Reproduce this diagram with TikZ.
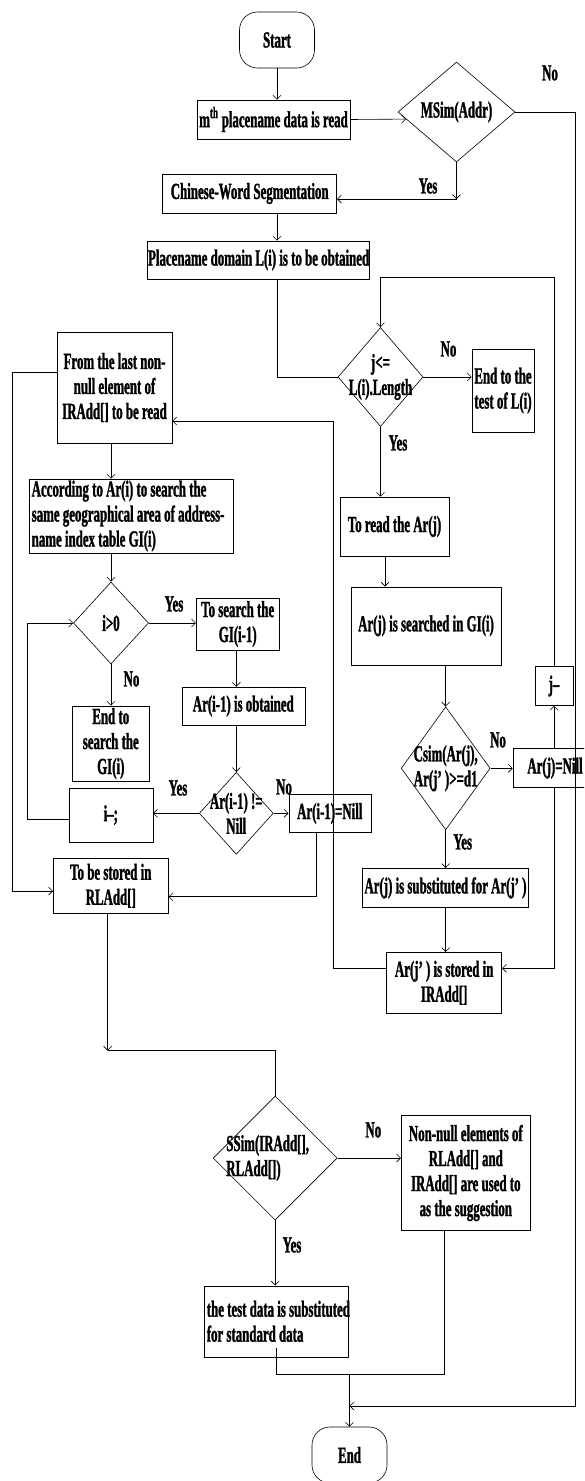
\documentclass[tikz,border=0pt]{standalone}
\usepackage{fontspec}
\setmainfont{Liberation Serif}[FakeStretch=0.56, BoldFeatures={FakeBold=1.2}]
\usetikzlibrary{shapes.geometric,arrows.meta,calc}
\begin{document}
\begin{tikzpicture}[x=1pt,y=-1pt, line width=0.6pt,
  >={Straight Barb[length=4pt,width=8pt]},
  font=\bfseries\fontsize{23}{25}\selectfont,
  box/.style 2 args={draw, rectangle, minimum width=#1, minimum height=#2, inner sep=0pt},
  dia/.style 2 args={draw, diamond, minimum width=#1, minimum height=#2, inner sep=0pt},
  term/.style={draw, rectangle, rounded corners=18pt, minimum width=75pt, minimum height=56pt, inner sep=0pt},
  t/.style={align=center, inner sep=0pt},
  tl/.style={align=left, inner sep=0pt, anchor=west},
  lab/.style={inner sep=0pt}]
\useasboundingbox (0,0) rectangle (584,1481);
\clip (0,0) rectangle (584,1481);

% ---------- nodes ----------
\node[term] (start) at (277,40) {};
\node[t] (startT) at (start) {Start};
\node[box={153pt}{39pt}] (b1) at (273.5,119.5) {};
\node[t] (b1T) at (b1) {m\textsuperscript{th} placename data is read};
\node[dia={117pt}{100pt}] (d1) at (456.5,112) {};
\node[t] (d1T) at (d1) {MSim(Addr)};
\node[box={174pt}{39pt}] (b2) at (249.7,193.5) {};
\node[t] (b2T) at (b2) {Chinese-Word Segmentation};
\node[box={222pt}{38pt}] (b3) at (258.6,260) {};
\node[t] (b3T) at (b3) {Placename domain L(i) is to be obtained};
\node[dia={85pt}{99pt}] (d2) at (380.5,377) {};
\node[t] (d2T) at (d2) {j<=\\L(i).Length};
\node[box={62pt}{83pt}] (bEt) at (503,390.5) {};
\node[t] (bEtT) at (bEt) {End to the\\test of L(i)};
\node[box={115pt}{111pt}] (bFrom) at (114.5,387.5) {};
\node[t] (bFromT) at (bFrom) {From the last non-\\null element of\\IRAdd[] to be read};
\node[box={204pt}{74pt}] (bAcc) at (131.7,516) {};
\node[tl] (bAccT) at ([xshift=2pt]bAcc.west) {According to Ar(i) to search the\\same geographical area of address-\\name index table GI(i)};
\node[box={109pt}{59pt}] (bRead) at (394.5,526.5) {};
\node[t] (bReadT) at (bRead) {To read the Ar(j)};
\node[box={150pt}{78pt}] (bSrch) at (426,625.8) {};
\node[t] (bSrchT) at (bSrch) {Ar(j) is searched in GI(i)};
\node[dia={75pt}{82pt}] (d3) at (111,623) {};
\node[t] (d3T) at (d3) {i>0};
\node[box={83pt}{52pt}] (bGI) at (237.7,624) {};
\node[t] (bGIT) at (bGI) {To search the\\GI(i-1)};
\node[box={123pt}{38pt}] (bObt) at (243.3,706) {};
\node[t] (bObtT) at (bObt) {Ar(i-1) is obtained};
\node[box={77pt}{75pt}] (bEs) at (110.8,743.5) {};
\node[t] (bEsT) at (bEs) {End to\\search the\\GI(i)};
\node[dia={74pt}{82pt}] (d4) at (236.3,813.3) {};
\node[t] (d4T) at (d4) {Ar(i-1) !=\\Nill};
\node[box={84pt}{54pt}] (bIdec) at (110.8,815) {};
\node[t] (bIdecT) at (bIdec) {i–;};
\node[box={82pt}{38pt}] (bAin) at (329.8,813.5) {};
\node[t] (bAinT) at (bAin) {Ar(i-1)=Nill};
\node[box={115pt}{55pt}] (bSt) at (110.8,885.8) {};
\node[t] (bStT) at (bSt) {To be stored in\\RLAdd[]};
\node[dia={89pt}{123pt}] (d5) at (445.7,768.3) {};
\node[t] (d5T) at (d5) {Csim(Ar(j),\\Ar(j’ )>=d1};
\node[box={84pt}{39pt}] (bAjn) at (555,768) {};
\node[t] (bAjnT) at (bAjn) {Ar(j)=Nill};
\node[box={38pt}{39pt}] (bJd) at (554,686) {};
\node[t] (bJdT) at (bJd) {j–};
\node[box={166pt}{39pt}] (bSub) at (445.5,887.8) {};
\node[t] (bSubT) at (bSub) {Ar(j) is substituted for Ar(j’ )};
\node[box={115pt}{61pt}] (bIR) at (444.2,982.8) {};
\node[t] (bIRT) at (bIR) {Ar(j’ ) is stored in\\IRAdd[]};
\node[dia={124pt}{124pt}] (d6) at (275.2,1158) {};
\node[tl] (d6T) at (226,1158) {SSim(IRAdd[],\\RLAdd[])};
\node[box={129pt}{115pt}] (bNN) at (465.8,1173) {};
\node[t] (bNNT) at (bNN) {Non-null elements of\\RLAdd[] and\\IRAdd[] are used to\\as the suggestion};
\node[box={144pt}{71pt}] (bTest) at (275.8,1321.3) {};
\node[tl] (bTestT) at ([xshift=3pt]bTest.west) {the test data is substituted\\for standard data};
\node[term] (end) at (349.5,1455) {};
\node[t] (endT) at (end) {End};

% ---------- labels ----------
\node[lab] (n1) at (550,73) {No};
\node[lab] (y1) at (428,186) {Yes};
\node[lab] (n2) at (448.5,349) {No};
\node[lab] (y2) at (398,443) {Yes};
\node[lab] (y3) at (174,604) {Yes};
\node[lab] (n3) at (131.5,679) {No};
\node[lab] (y4) at (178,788) {Yes};
\node[lab] (n4) at (284,787) {No};
\node[lab] (n5) at (498,740) {No};
\node[lab] (y5) at (462.7,842) {Yes};
\node[lab] (n6) at (373.3,1130) {No};
\node[lab] (y6) at (292,1245) {Yes};

% ---------- coordinates ----------
\coordinate (cY) at (456.5,199);
\coordinate (cR) at (575,1406);
\coordinate (cLoop) at (380.5,277);
\coordinate (cFromIn) at (333.3,421);
\coordinate (cL) at (12.3,891);
\coordinate (cL2) at (27.3,623);
\coordinate (cAin) at (316.7,896.7);
\coordinate (cS1) at (107.7,1050.7);
\coordinate (cM) at (444,1374);

% ---------- connectors ----------
\draw[->] (start.south) -- (start.south |- b1.north);
\draw[->] (b1.east) -- (d1.188.6);
\draw[->] (d1.south) -- (cY);
\draw[->] (cY) -- (cY -| b2.east);
\draw[->] (d1.east) -| (cR) -- (cR -| end.north);
\draw[->] (start.south |- b2.south) -- (start.south |- b3.north);
\draw (start.south |- b3.south) |- (d2.west);
\draw[->] (d2.east) -- (d2.east -| bEt.west);
\draw[->] (d2.south) -- (d2.south |- bRead.north);
\draw[->] ([xshift=4.5pt]d2.south |- bRead.south) -- ([xshift=4.5pt]d2.south |- bSrch.north);
\draw[->] (d5.north |- bSrch.south) -- (d5.north);
\draw[->] (d5.east) -- (d5.east -| bAjn.west);
\draw[->] (bJd.south |- bAjn.north) -- (bJd.south);
\draw[->] (bJd.north) |- (cLoop) -- (d2.north);
\draw[->] (bJd.south |- bAjn.south) |- ([yshift=14.5pt]bIR.east);
\draw[->] (d5.south) -- (d5.south |- bSub.north);
\draw[->] (d5.south |- bSub.south) -- (d5.south |- bIR.north);
\draw[->] ([yshift=14.5pt]bIR.west) -| (cFromIn) -- (cFromIn -| bFrom.east);
\draw[->] ([yshift=15.5pt]bFrom.west) -| (cL) -- (cL -| bSt.west);
\draw[->] (d3.north |- bFrom.south) -- (d3.north |- bAcc.north);
\draw[->] (d3.north |- bAcc.south) -- (d3.north);
\draw[->] (d3.east) -- (d3.east -| bGI.west);
\draw[->] (d3.south) -- (d3.south |- bEs.north);
\draw[->] (d4.north |- bGI.south) -- (d4.north |- bObt.north);
\draw[->] (d4.north |- bObt.south) -- (d4.north);
\draw[->] (d4.west) -- (d4.west -| bIdec.east);
\draw[->] (d4.east) -- (d4.east -| bAin.west);
\draw[->] ([yshift=-4pt]bIdec.west) -| (cL2) -- (d3.west);
\draw[->] (cAin |- bAin.south) -- (cAin) -- (cAin -| bSt.east);
\draw[->] (cS1 |- bSt.south) -- (cS1);
\draw (cS1) -| (d6.north);
\draw[->] (d6.east) -- (d6.east -| bNN.west);
\draw[->] (d6.south) -- (d6.south |- bTest.north);
\draw ([yshift=8.7pt]bTest.south) |- (cM) -- (cM |- bNN.south);
\draw[->] (end.north |- cM) -- (end.north);
\end{tikzpicture}
\end{document}
